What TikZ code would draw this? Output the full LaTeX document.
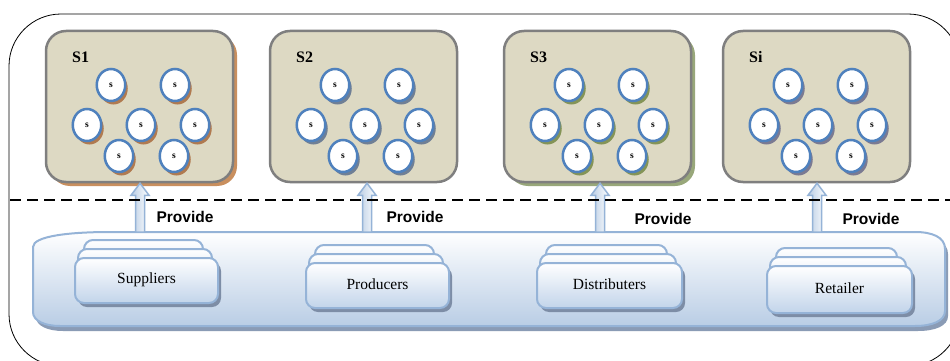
\documentclass[tikz,border=0pt]{standalone}
\usepackage{fontspec}
\setmainfont{Liberation Serif}
\newfontfamily\provfont{Liberation Sans}
\usetikzlibrary{shapes.geometric,shadows,fit,calc}
\definecolor{tanfill}{HTML}{DDD9C3}
\definecolor{boxgray}{HTML}{7F7F7F}
\definecolor{cblue}{HTML}{4F81BD}
\definecolor{lblue}{HTML}{95B3D7}
\definecolor{stackfill}{HTML}{C2D4EA}
\definecolor{platfill}{HTML}{B9CDE5}
\definecolor{platshadow}{HTML}{8A9BB5}
\definecolor{stackshadow}{HTML}{7D8DA6}
\definecolor{shOne}{HTML}{C98F5E}
\definecolor{shThree}{HTML}{98A77A}
\definecolor{cshOne}{HTML}{B07A50}
\definecolor{cshTwo}{HTML}{6F7F95}
\definecolor{cshThree}{HTML}{849457}
\definecolor{cshFour}{HTML}{7A7A92}
\definecolor{arrowL}{HTML}{B8CCE4}
\tikzset{
  outerbox/.style={draw=black, line width=0.8pt, rounded corners=52pt, inner sep=0},
  sepline/.style={draw=black, line width=2.4pt, dash pattern=on 10.5pt off 6.5pt},
  sbox/.style={draw=boxgray, line width=2.5pt, fill=tanfill, rounded corners=20pt,
    minimum width=187, minimum height=151, inner sep=0},
  boxshadow/.style={drop shadow={shadow xshift=4pt, shadow yshift=-4pt, fill=#1, opacity=1}},
  slabel/.style={font=\fontsize{16}{18}\selectfont\bfseries, inner sep=0},
  scirc/.style={ellipse, draw=cblue, line width=2.5pt, fill=white, minimum width=28.5,
    minimum height=32, inner sep=0, font=\fontsize{9.5}{10}\selectfont\bfseries},
  cshadow/.style={drop shadow={shadow xshift=2.5pt, shadow yshift=-3.5pt, fill=#1, opacity=1}},
  layerbox/.style={draw=lblue, line width=2pt, rounded corners=9pt, top color=white,
    bottom color=stackfill, inner sep=0},
  frontbox/.style={layerbox, drop shadow={shadow xshift=3pt, shadow yshift=-4pt, fill=stackshadow, opacity=1}},
  stacktext/.style={font=\fontsize{15.5}{18}\selectfont, inner sep=0},
  platform/.style={draw=lblue, line width=2pt, top color=white, bottom color=platfill},
  platshade/.style={fill=platshadow},
  arrowbody/.style={draw=lblue, line width=1.5pt, left color=arrowL, right color=white},
  provlabel/.style={font=\provfont\fontsize{15.5}{18}\selectfont\bfseries, inner sep=0},
}
\newcommand\servicebox[5]{%
  \node[sbox, #4] (#1) at (#2+94.5,106.5) {};
  \node[slabel, anchor=west] (#1-lab) at (#2+27,57) {#3};
  \foreach \dx/\yy [count=\k] in {66/85,130/85,42/125,96/125,150/125,74/156,129/156}
    \node[scirc, cshadow=#5] (#1-c\k) at (#2+\dx,\yy) {s};
}
\newcommand\stackbox[6]{%
  \node[layerbox, fit={(#3+9,#5-18) (#4-15,#6-12)}] (#1-back) {};
  \node[layerbox, fit={(#3+3,#5-9) (#4-6,#6-12)}] (#1-mid) {};
  \node[frontbox, fit={(#3,#5) (#4,#6)}] (#1) {};
  \node[stacktext] (#1-t) at ($(#1.center)+(0,-1)$) {#2};
}
\newcommand\provarrow[2]{%
  \path[arrowbody] let \p1=(#1), \p2=(#2) in
    ({\x1-4.5pt},\y1) -- ({\x1-4.5pt},{\y2-12pt}) -- ({\x1-9pt},{\y2-12pt}) -- (\x1,\y2)
    -- ({\x1+9pt},{\y2-12pt}) -- ({\x1+4.5pt},{\y2-12pt}) -- ({\x1+4.5pt},\y1) -- cycle;
}
\begin{document}
\begin{tikzpicture}[x=1pt,y=-1pt]
\useasboundingbox (0,0) rectangle (950,361);
\clip (0,0) rectangle (950,361);
\fill[white] (0,0) rectangle (950,361);
% outer frame
\node[outerbox, minimum width=951, minimum height=352] (outer) at (484.5,190) {};
% service boxes
\servicebox{S1}{45}{S1}{boxshadow=shOne}{cshOne}
\servicebox{S2}{269}{S2}{}{cshTwo}
\servicebox{S3}{503}{S3}{boxshadow=shThree}{cshThree}
\servicebox{Si}{722}{Si}{}{cshFour}
% platform
\path[platshade, shift={(3,5)}] (33,247) .. controls (33,236) and (70,232) .. (110,232) -- (915,232)
  .. controls (932,232) and (945,237) .. (945,249) -- (945,311) .. controls (945,321) and (932,326) .. (915,326)
  -- (60,326) .. controls (45,326) and (33,321) .. (33,312) -- cycle;
\path[platform] (33,247) .. controls (33,236) and (70,232) .. (110,232) -- (915,232)
  .. controls (932,232) and (945,237) .. (945,249) -- (945,311) .. controls (945,321) and (932,326) .. (915,326)
  -- (60,326) .. controls (45,326) and (33,321) .. (33,312) -- cycle;
\coordinate (ptop) at (0,232);
% stacks
\stackbox{sup}{Suppliers}{75}{218}{258}{303}
\stackbox{pro}{Producers}{306}{449}{263}{308}
\stackbox{dis}{Distributers}{537}{682}{263}{308}
\stackbox{ret}{Retailer}{767}{912}{266}{313}
% arrows
\coordinate (a1) at (140,232);
\coordinate (a2) at (367,232);
\coordinate (a3) at (600,232);
\coordinate (a4) at (817,232);
\coordinate (t1) at (a1 |- S1.south);
\coordinate (t2) at (a2 |- S2.south);
\coordinate (t3) at (a3 |- S3.south);
\coordinate (t4) at (a4 |- Si.south);
\provarrow{a1}{t1}
\provarrow{a2}{t2}
\provarrow{a3}{t3}
\provarrow{a4}{t4}
% labels
\node[provlabel] (p1) at (185,217) {Provide};
\node[provlabel] (p2) at (415,217) {Provide};
\node[provlabel] (p3) at (663,219) {Provide};
\node[provlabel] (p4) at (871,219) {Provide};
% separator
\coordinate (dL) at (10,200);
\coordinate (dR) at (950,200);
\draw[sepline] (dL) -- (dR);
\end{tikzpicture}
\end{document}
